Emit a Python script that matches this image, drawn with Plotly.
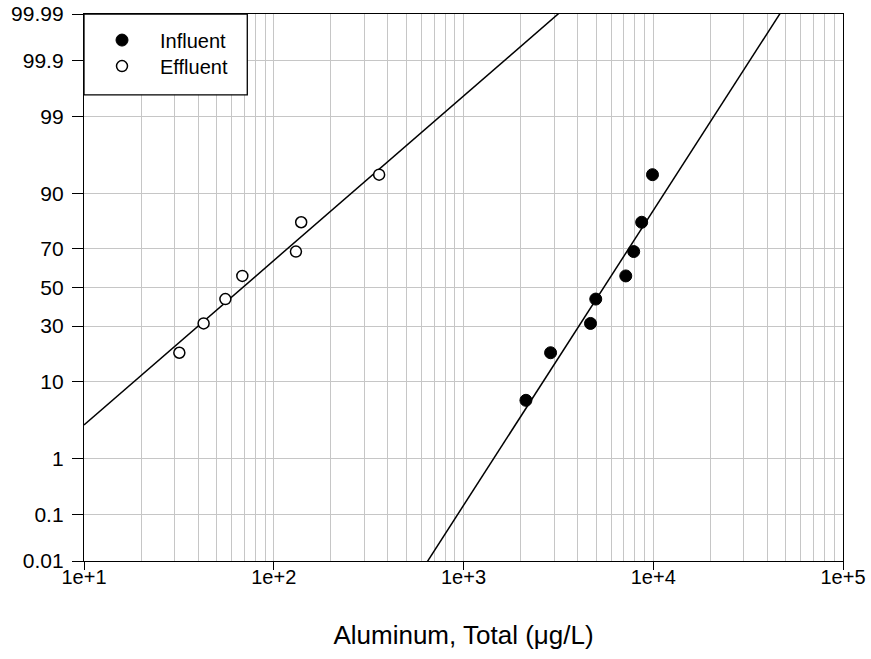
import plotly.graph_objects as go
from statistics import NormalDist
import math

# ---- data ----
influent_conc = [2133, 2877, 4670, 4977, 7164, 7887, 8688, 9908]          # µg/L
influent_pct = [6.25, 18.75, 31.25, 43.75, 56.25, 68.75, 81.25, 93.75]    # cumulative %
effluent_conc = [31.8, 42.7, 55.6, 68.3, 130.9, 139.5, 359.2]
effluent_pct = [18.75, 31.25, 43.75, 56.25, 68.75, 81.25, 93.75]

# fitted lognormal lines (log10 mean, log10 std)
influent_fit = {"mu": 3.739, "sigma": 0.2494}
effluent_fit = {"mu": 1.836, "sigma": 0.447}

y_tick_pct = [0.01, 0.1, 1, 10, 30, 50, 70, 90, 99, 99.9, 99.99]
y_tick_text = ["0.01", "0.1", "1", "10", "30", "50", "70", "90", "99", "99.9", "99.99"]
x_tick_vals = [1e1, 1e2, 1e3, 1e4, 1e5]
x_tick_text = ["1e+1", "1e+2", "1e+3", "1e+4", "1e+5"]

nd = NormalDist()
def z(p):
    return nd.inv_cdf(p / 100.0)

def fit_line(fit):
    xs = [10 ** (1 + 0.05 * k) for k in range(81)]
    ys = [(math.log10(x) - fit["mu"]) / fit["sigma"] for x in xs]
    return xs, ys

FONT = "Liberation Sans, Arial, sans-serif"

fig = go.Figure()

lx, ly = fit_line(influent_fit)
fig.add_trace(go.Scatter(x=lx, y=ly, mode="lines", line=dict(color="black", width=1.5),
                         showlegend=False, hoverinfo="skip"))
lx, ly = fit_line(effluent_fit)
fig.add_trace(go.Scatter(x=lx, y=ly, mode="lines", line=dict(color="black", width=1.5),
                         showlegend=False, hoverinfo="skip"))

fig.add_trace(go.Scatter(x=influent_conc, y=[z(p) for p in influent_pct], mode="markers",
                         name="Influent", legend="legend",
                         marker=dict(symbol="circle", size=12, color="black",
                                     line=dict(color="black", width=1))))
fig.add_trace(go.Scatter(x=effluent_conc, y=[z(p) for p in effluent_pct], mode="markers",
                         name="Effluent", legend="legend2",
                         marker=dict(symbol="circle", size=11, color="white",
                                     line=dict(color="black", width=1.5))))

minor_vals = [m * 10 ** d for d in range(1, 5) for m in range(2, 10)]

zlim = z(99.99)

legend_style = dict(x=0, xanchor="left", yanchor="top",
                    bgcolor="rgba(0,0,0,0)", borderwidth=0, itemwidth=66,
                    font=dict(family=FONT, size=20, color="black"))

fig.update_layout(
    width=871, height=659,
    margin=dict(l=83.5, r=27.5, t=14.3, b=98.3, autoexpand=False),
    paper_bgcolor="white", plot_bgcolor="white",
    font=dict(family=FONT, size=21, color="black"),
    showlegend=True,
    legend=dict(y=0.988, **legend_style),
    legend2=dict(y=0.988 - 26 / 546.4, **legend_style),
    xaxis=dict(type="log", range=[1, 5], tickvals=x_tick_vals, ticktext=x_tick_text,
               showgrid=True, gridcolor="#c6c6c6", gridwidth=1.2,
               minor=dict(tickvals=minor_vals, showgrid=True, gridcolor="#c6c6c6",
                          gridwidth=1.2, ticks=""),
               showline=True, linecolor="black", linewidth=1.3, mirror=True,
               ticks="outside", ticklen=8, tickwidth=1.3, tickcolor="black",
               tickfont=dict(size=20), ticklabelstandoff=-10, automargin=False,
               ticklabeloverflow="allow",
               title=dict(text="Aluminum, Total (\u03bcg/L)", font=dict(size=26), standoff=38),
               zeroline=False),
    yaxis=dict(range=[-zlim, zlim], tickvals=[z(p) for p in y_tick_pct], ticktext=y_tick_text,
               showgrid=True, gridcolor="#c6c6c6", gridwidth=1.2,
               showline=True, linecolor="black", linewidth=1.3, mirror=True,
               ticks="outside", ticklen=11, tickwidth=1.3, tickcolor="black",
               tickfont=dict(size=21), ticklabelstandoff=4, automargin=False,
               ticklabeloverflow="allow",
               zeroline=False),
    shapes=[dict(type="rect", xref="paper", yref="paper",
                 x0=0, x1=(247 - 83.5) / 760, y0=1 - (95 - 14.3) / 546.4, y1=1,
                 line=dict(color="black", width=1.3), fillcolor="white", layer="above")],
)

fig.write_html("out.html", config={"displayModeBar": False},
               post_script="document.body.style.margin='0px';document.body.style.overflow='hidden';")
